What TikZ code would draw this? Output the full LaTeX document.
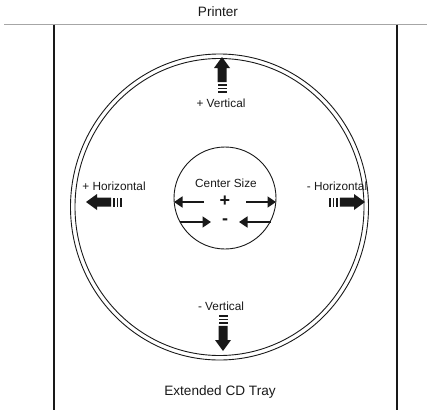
\documentclass[tikz,border=0pt]{standalone}
\usepackage{fontspec}
\setmainfont{Liberation Sans}
\usetikzlibrary{arrows.meta}

\begin{document}
\begin{tikzpicture}[
  x=1pt, y=-1pt,
  every node/.style={font=\fontsize{11.8}{13}\selectfont, text=black!90, inner sep=0pt},
  title/.style={font=\fontsize{13.6}{15}\selectfont},
  sign/.style={font=\fontsize{18}{18}\selectfont\bfseries},
  sizearrow/.style={line width=1.6pt, black!90, -{Triangle[length=8.5pt, width=11pt]}},
  rail/.style={line width=1.1pt, black!90},
  ring/.style={line width=0.9pt, black!90},
  blockarrow/.pic={
    \fill[black!90] (10.8,-4.5) -- (25,-4.5) -- (25,-8) -- (36,0)
      -- (25,8) -- (25,4.5) -- (10.8,4.5) -- cycle;
    \foreach \s in {0,3.6,7.2}
      \fill[black!90] (\s,-4.5) rectangle ++(1.8,9);
  }
]
\useasboundingbox (0,0) rectangle (431,410);

% ====== PRINTER EDGE AND TRAY RAILS ======
\node[title] (printer) at (218,12) {Printer};
\coordinate (topL) at (4,24.5);
\coordinate (topR) at (427,24.5);
\draw[gray!70, line width=1.6pt] (topL) -- (topR);

\coordinate (railLt) at (54,24.5);  \coordinate (railLb) at (54,410);
\coordinate (railRt) at (397,24.5); \coordinate (railRb) at (397,410);
\draw[rail] (railLt) -- (railLb);
\draw[rail] (railRt) -- (railRb);

\node[title] (tray) at (220,392) {Extended CD Tray};

% ====== DISC RINGS ======
\draw[ring] (219.5,207) ellipse [x radius=149, y radius=153];
\draw[ring] (219.5,207) ellipse [x radius=144.5, y radius=148.5];

% ====== POSITION ARROWS ======
\pic[rotate=90]  at (222,93)  {blockarrow};
\node (vplus) at (221,103) {+ Vertical};

\pic[rotate=-90] at (223,315) {blockarrow};
\node (vminus) at (221,306) {- Vertical};

\pic[rotate=180] at (122,202) {blockarrow};
\node (hplus) at (114,186) {+ Horizontal};

\pic at (329,202) {blockarrow};
\node (hminus) at (337,186) {- Horizontal};

% ====== CENTER SIZE ======
\node[circle, draw, ring, minimum size=102pt] (hub) at (225,198) {};
\node (hubtext) at (226,183) {Center Size};
\node[sign] (plus) at (225,201) {+};
\node[sign] (minus) at (225,222) {-};

\coordinate (growL) at (204,202);  \coordinate (growLt) at (174,202);
\coordinate (growR) at (246,202);  \coordinate (growRt) at (276,202);
\coordinate (shrinkL) at (180,222); \coordinate (shrinkLt) at (211,222);
\coordinate (shrinkR) at (271,222); \coordinate (shrinkRt) at (239,222);
\draw[sizearrow] (growL) -- (growLt);
\draw[sizearrow] (growR) -- (growRt);
\draw[sizearrow] (shrinkL) -- (shrinkLt);
\draw[sizearrow] (shrinkR) -- (shrinkRt);

\end{tikzpicture}
\end{document}
